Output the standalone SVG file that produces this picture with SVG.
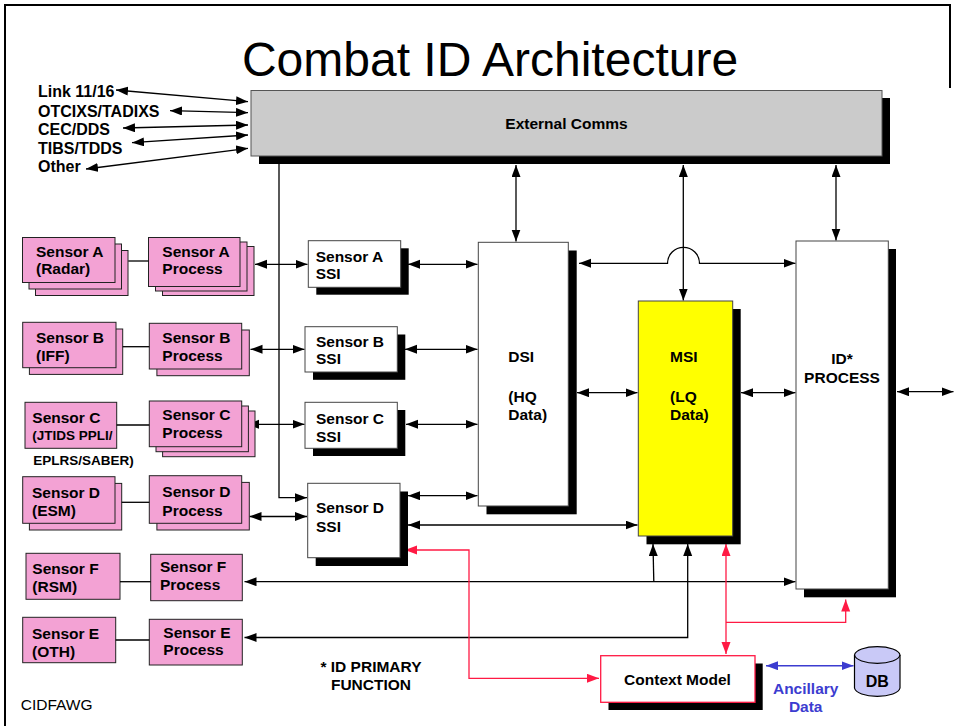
<svg xmlns="http://www.w3.org/2000/svg" width="955" height="726" viewBox="0 0 955 726">
<defs>
<style>
text{font-family:"Liberation Sans",Arial,sans-serif;font-weight:bold;font-size:15.5px;fill:#000}
.t{font-weight:normal}
.pk{fill:#f3a2d4;stroke:#222;stroke-width:1}
.wb{fill:#fff;stroke:#444;stroke-width:1}
.sh{fill:#000}
.ln{fill:none;stroke:#000;stroke-width:1.3}
.bi{marker-start:url(#ah);marker-end:url(#ah)}
.en{marker-end:url(#ah)}
.rd{fill:none;stroke:#ff1a44;stroke-width:1.3}
.rbi{marker-start:url(#ahr);marker-end:url(#ahr)}
.ren{marker-end:url(#ahr)}
.bl{fill:none;stroke:#3c3cd0;stroke-width:1.5;marker-start:url(#ahb);marker-end:url(#ahb)}
.sm{font-size:13.5px}
.blue{fill:#3c3cd0}
</style>
<marker id="ah" markerUnits="userSpaceOnUse" markerWidth="13" markerHeight="10" refX="12" refY="4.5" orient="auto-start-reverse"><path d="M0,0 L12,4.5 L0,9 z" fill="#000"/></marker>
<marker id="ahr" markerUnits="userSpaceOnUse" markerWidth="13" markerHeight="10" refX="12" refY="4.5" orient="auto-start-reverse"><path d="M0,0 L12,4.5 L0,9 z" fill="#ff1a44"/></marker>
<marker id="ahb" markerUnits="userSpaceOnUse" markerWidth="13" markerHeight="10" refX="12" refY="4.5" orient="auto-start-reverse"><path d="M0,0 L12,4.5 L0,9 z" fill="#3c3cd0"/></marker>
</defs>
<rect width="955" height="726" fill="#fff"/>
<g id="frame" fill="none" stroke="#000" stroke-width="2">
<path d="M5,726 V5 H950 V88"/>
</g>
<text x="490" y="76" text-anchor="middle" class="t" style="font-size:48px">Combat ID Architecture</text>

<g id="labels">
<text x="38" y="97" style="font-size:16px">Link 11/16</text>
<text x="38" y="116.5" style="font-size:16px">OTCIXS/TADIXS</text>
<text x="38" y="135" style="font-size:16px">CEC/DDS</text>
<text x="38" y="154" style="font-size:16px">TIBS/TDDS</text>
<text x="38" y="172" style="font-size:16px">Other</text>
</g>

<g id="connectors">
<line class="ln bi" x1="116" y1="90" x2="248" y2="101.7"/>
<line class="ln bi" x1="170" y1="110.7" x2="248" y2="112.7"/>
<line class="ln bi" x1="123" y1="128" x2="248" y2="125"/>
<line class="ln bi" x1="132" y1="142.7" x2="248" y2="135"/>
<line class="ln bi" x1="86" y1="169" x2="248" y2="148.3"/>
<path class="ln en" d="M279,163 V497.7 H307"/>
<line class="ln bi" x1="255" y1="264.3" x2="307.5" y2="264.3"/>
<line class="ln bi" x1="250.5" y1="349.3" x2="304.5" y2="349.3"/>
<line class="ln bi" x1="247" y1="424.3" x2="304.5" y2="424.3"/>
<line class="ln bi" x1="249.5" y1="516.5" x2="307" y2="516.5"/>
<line class="ln bi" x1="408" y1="264.3" x2="477.5" y2="264.3"/>
<line class="ln bi" x1="405" y1="349.3" x2="477.5" y2="349.3"/>
<line class="ln bi" x1="406" y1="424.3" x2="477.5" y2="424.3"/>
<line class="ln bi" x1="408" y1="495.7" x2="477.5" y2="495.7"/>
<line class="ln bi" x1="408" y1="525" x2="637.5" y2="525"/>
<line class="ln bi" x1="516" y1="165" x2="516" y2="241.5"/>
<line class="ln bi" x1="683.3" y1="165" x2="683.3" y2="300.5"/>
<line class="ln bi" x1="836" y1="165" x2="836" y2="240.5"/>
<path class="ln bi" d="M579,263.3 H667.5 A16,16 0 0 1 699.5,263.3 H795.5"/>
<line class="ln bi" x1="577" y1="392.7" x2="637.5" y2="392.7"/>
<line class="ln bi" x1="741" y1="392.7" x2="795.5" y2="392.7"/>
<line class="ln bi" x1="897" y1="391.7" x2="953.5" y2="391.7"/>
<line class="ln bi" x1="244.5" y1="581.7" x2="795.5" y2="581.7"/>
<line class="ln en" x1="653.8" y1="581.7" x2="653" y2="544"/>
<path class="ln bi" d="M687.7,544 V637.5 H244.5"/>
<path class="rd rbi" d="M405,550 H469 V678.3 H599"/>
<line class="rd rbi" x1="726" y1="544" x2="726" y2="654"/>
<path class="rd ren" d="M726,622.3 H845.7 V599.5"/>
<line class="bl" x1="766" y1="665.7" x2="853.5" y2="665.7"/>
</g>

<g id="external-comms">
<rect class="sh" x="259" y="98" width="631" height="66"/>
<rect x="251" y="90.5" width="631" height="65.5" fill="#cbcbcb" stroke="#555" stroke-width="1"/>
<text x="566.5" y="129" text-anchor="middle">External Comms</text>
</g>

<g id="sensor-a">
<rect class="pk" x="35.5" y="250.5" width="92.5" height="45"/>
<rect class="pk" x="29" y="244" width="92.5" height="45"/>
<rect class="pk" x="22.5" y="237.5" width="92.5" height="45"/>
<text x="36" y="256.7">Sensor A</text>
<text x="36" y="274.3">(Radar)</text>
</g>
<g id="sensor-a-process">
<rect class="pk" x="162.5" y="246.5" width="91.5" height="49"/>
<rect class="pk" x="155.5" y="242" width="91.5" height="49"/>
<rect class="pk" x="148.5" y="237.5" width="91.5" height="49"/>
<text x="162.3" y="256.7">Sensor A</text>
<text x="162.3" y="274.3">Process</text>
</g>
<line class="ln" x1="128.3" y1="261" x2="148.5" y2="261"/>

<g id="sensor-b">
<rect class="pk" x="29.4" y="329" width="93.3" height="45.4"/>
<rect class="pk" x="22.7" y="322.3" width="93.3" height="45.4"/>
<text x="36" y="343.3">Sensor B</text>
<text x="36" y="361">(IFF)</text>
</g>
<g id="sensor-b-process">
<rect class="pk" x="156.9" y="330" width="92.4" height="45.7"/>
<rect class="pk" x="149.3" y="323.3" width="92.4" height="45.7"/>
<text x="162.3" y="343.3">Sensor B</text>
<text x="162.3" y="361">Process</text>
</g>
<line class="ln" x1="122.7" y1="346.7" x2="149.3" y2="346.7"/>

<g id="sensor-c">
<rect class="pk" x="25" y="402.3" width="91.7" height="46"/>
<text x="32.3" y="423.3">Sensor C</text>
<text x="32.3" y="440" class="sm">(JTIDS PPLI/</text>
<text x="33.3" y="465" class="sm">EPLRS/SABER)</text>
</g>
<g id="sensor-c-process">
<rect class="pk" x="162.6" y="411" width="92.4" height="45.7"/>
<rect class="pk" x="156" y="406" width="92.4" height="45.7"/>
<rect class="pk" x="149.3" y="401" width="92.4" height="45.7"/>
<text x="162.3" y="420">Sensor C</text>
<text x="162.3" y="438.3">Process</text>
</g>
<line class="ln" x1="116.7" y1="425" x2="149.3" y2="425"/>

<g id="sensor-d">
<rect class="pk" x="29.4" y="483.4" width="92.3" height="46.6"/>
<rect class="pk" x="22.7" y="476.7" width="92.3" height="46.6"/>
<text x="32" y="498.3">Sensor D</text>
<text x="32" y="516">(ESM)</text>
</g>
<g id="sensor-d-process">
<rect class="pk" x="156.9" y="482.4" width="92.4" height="47.6"/>
<rect class="pk" x="149.3" y="475.7" width="92.4" height="47.6"/>
<text x="162.3" y="496.7">Sensor D</text>
<text x="162.3" y="516">Process</text>
</g>
<line class="ln" x1="121.7" y1="502.3" x2="149.3" y2="502.3"/>

<g id="sensor-f">
<rect class="pk" x="26" y="553.3" width="94" height="46"/>
<text x="32.3" y="574.3">Sensor F</text>
<text x="32.3" y="592.3">(RSM)</text>
</g>
<g id="sensor-f-process">
<rect class="pk" x="150.7" y="554.3" width="91.6" height="46.4"/>
<text x="160" y="572.3">Sensor F</text>
<text x="160" y="590">Process</text>
</g>
<line class="ln" x1="120" y1="581.7" x2="150.7" y2="581.7"/>

<g id="sensor-e">
<rect class="pk" x="22.7" y="617.3" width="93" height="45.4"/>
<text x="32" y="639">Sensor E</text>
<text x="32" y="656.7">(OTH)</text>
</g>
<g id="sensor-e-process">
<rect class="pk" x="149.3" y="619.3" width="93" height="45.7"/>
<text x="163.3" y="637.7">Sensor E</text>
<text x="163.3" y="655">Process</text>
</g>
<line class="ln" x1="115.7" y1="640" x2="149.3" y2="640"/>

<g id="sensor-a-ssi">
<rect class="sh" x="316.3" y="248.3" width="92.4" height="46.4"/>
<rect class="wb" x="308.3" y="240.7" width="92.4" height="46.6"/>
<text x="315.7" y="261.7">Sensor A</text>
<text x="315.7" y="279.3">SSI</text>
</g>
<g id="sensor-b-ssi">
<rect class="sh" x="313" y="334.5" width="92.3" height="45.3"/>
<rect class="wb" x="305" y="326.7" width="92.3" height="45.3"/>
<text x="316" y="346.7">Sensor B</text>
<text x="316" y="364.3">SSI</text>
</g>
<g id="sensor-c-ssi">
<rect class="sh" x="313" y="410" width="92.3" height="46"/>
<rect class="wb" x="305" y="402.3" width="92.3" height="46"/>
<text x="316" y="424.3">Sensor C</text>
<text x="316" y="441.7">SSI</text>
</g>
<g id="sensor-d-ssi">
<rect class="sh" x="315.7" y="491.5" width="92.3" height="74.5"/>
<rect class="wb" x="307.7" y="483.3" width="92.3" height="74.4"/>
<text x="316" y="513.3">Sensor D</text>
<text x="316" y="531.7">SSI</text>
</g>

<g id="dsi">
<rect class="sh" x="486.5" y="250.5" width="90.2" height="263.8"/>
<rect class="wb" x="478.3" y="242.3" width="90" height="263.7"/>
<text x="508.3" y="361.7">DSI</text>
<text x="508.3" y="402.3">(HQ</text>
<text x="508.3" y="420">Data)</text>
</g>
<g id="msi">
<rect class="sh" x="646.5" y="309" width="94.2" height="235.3"/>
<rect x="638.3" y="301" width="94.4" height="235" fill="#ffff00" stroke="#444" stroke-width="1"/>
<text x="670" y="361.7">MSI</text>
<text x="670" y="402.3">(LQ</text>
<text x="670" y="420">Data)</text>
</g>
<g id="id-process">
<rect class="sh" x="804" y="249" width="92" height="348.3"/>
<rect class="wb" x="796" y="241" width="92.3" height="348"/>
<text x="842" y="364" text-anchor="middle">ID*</text>
<text x="842" y="382.5" text-anchor="middle">PROCESS</text>
</g>

<g id="context-model">
<rect class="sh" x="608.5" y="663.5" width="154.2" height="46.5"/>
<rect x="600.7" y="655.7" width="154.3" height="46.6" fill="#fff" stroke="#ff1a44" stroke-width="1.3"/>
<text x="677.5" y="685" text-anchor="middle">Context Model</text>
</g>
<g id="db">
<path d="M854.5,655 A22.8,9 0 0 1 900,655 V688 A22.8,9 0 0 1 854.5,688 Z" fill="#c9c9f7" stroke="#000" stroke-width="1.2"/>
<path d="M854.5,655 A22.8,9 0 0 0 900,655" fill="none" stroke="#000" stroke-width="1.2"/>
<text x="877.2" y="686.7" text-anchor="middle" style="font-size:16px">DB</text>
</g>
<g id="ancillary">
<text x="805.7" y="694.3" text-anchor="middle" class="blue">Ancillary</text>
<text x="805.7" y="711.7" text-anchor="middle" class="blue">Data</text>
</g>
<g id="notes">
<text x="371" y="671.7" text-anchor="middle">* ID PRIMARY</text>
<text x="371" y="690" text-anchor="middle">FUNCTION</text>
<text x="20.7" y="710" class="t">CIDFAWG</text>
</g>
</svg>
